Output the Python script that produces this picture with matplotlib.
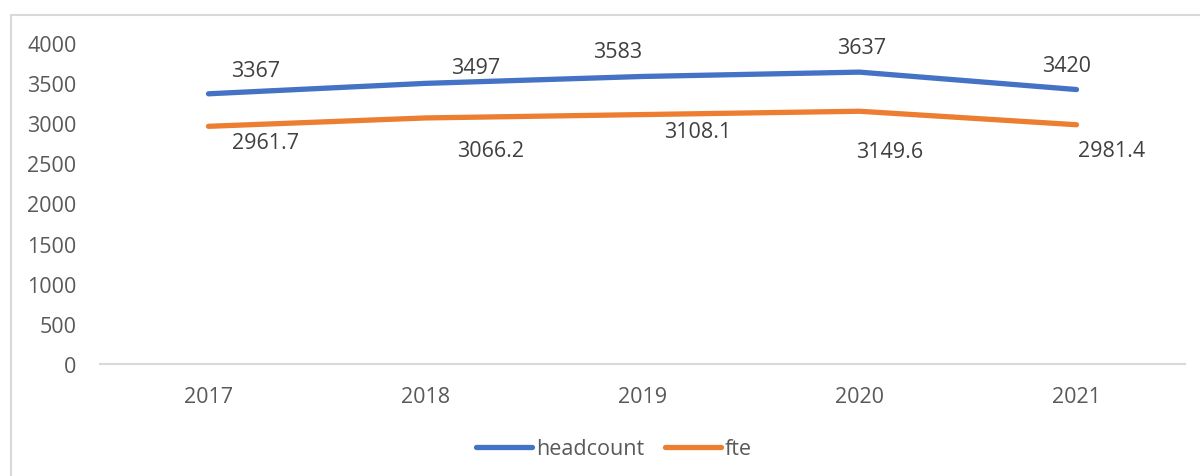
import matplotlib.pyplot as plt
from matplotlib.patches import Rectangle

years = ['2017', '2018', '2019', '2020', '2021']
headcount = [3367, 3497, 3583, 3637, 3420]
fte = [2961.7, 3066.2, 3108.1, 3149.6, 2981.4]
headcount_labels = ['3367', '3497', '3583', '3637', '3420']
fte_labels = ['2961.7', '3066.2', '3108.1', '3149.6', '2981.4']

# label offsets in pixels (x, y) relative to each point
hc_off = [(47, 23), (50, 16), (-25, 25), (2, 25), (-10, 24)]
fte_off = [(57, -16), (65, -33), (55, -17), (30, -40), (35, -26)]

plt.rcParams['font.family'] = ['Open Sans', 'DejaVu Sans']
fs = 15.5

fig = plt.figure(figsize=(12, 4.77), dpi=100)
ax = fig.add_axes([100 / 1200, 112 / 477, 1085 / 1200, 321 / 477])

# chart border
fig.patches.append(Rectangle((11 / 1200, -0.1), 1.2, (477 - 16) / 477 + 0.1,
                             transform=fig.transFigure, fill=False,
                             edgecolor='#d9d9d9', linewidth=1.5, clip_on=False))

x = range(len(years))
ax.plot(x, headcount, color='#4472C4', lw=3.8, solid_capstyle='round', label='headcount')
ax.plot(x, fte, color='#ED7D31', lw=3.8, solid_capstyle='round', label='fte')

px = 72 / 100
for i in x:
    ax.annotate(headcount_labels[i], (i, headcount[i]), xytext=(hc_off[i][0] * px, hc_off[i][1] * px),
                textcoords='offset points', ha='center', va='center', fontsize=fs, color='#404040')
    ax.annotate(fte_labels[i], (i, fte[i]), xytext=(fte_off[i][0] * px, fte_off[i][1] * px),
                textcoords='offset points', ha='center', va='center', fontsize=fs, color='#404040')

ax.set_xlim(-0.5, len(years) - 0.5)
ax.set_ylim(0, 4000)
ax.set_yticks(range(0, 4001, 500))
ax.set_xticks(list(x))
ax.set_xticklabels(years)
ax.tick_params(length=0, labelsize=fs, labelcolor='#595959')
ax.tick_params(axis='y', pad=17)
ax.tick_params(axis='x', pad=16)
for s in ['top', 'right', 'left']:
    ax.spines[s].set_visible(False)
ax.spines['bottom'].set_color('#d9d9d9')
ax.spines['bottom'].set_linewidth(1.5)

fig.legend(loc='center', bbox_to_anchor=(614 / 1200, 27 / 477), ncol=2, frameon=False,
           fontsize=fs, labelcolor='#595959', handlelength=2.6, handletextpad=0.15,
           columnspacing=1.0)

fig.savefig('out.png', dpi=100)
